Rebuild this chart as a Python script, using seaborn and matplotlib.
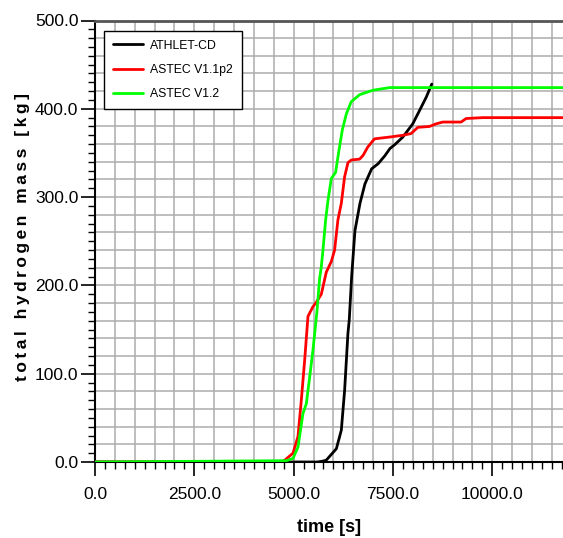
import pandas as pd
import seaborn as sns
import matplotlib.pyplot as plt
from matplotlib.ticker import MultipleLocator, FormatStrFormatter

# hydrogen mass curves
athlet_t = [0, 5600, 5736, 5820, 6075, 6200, 6283, 6367, 6400, 6460, 6543, 6670,
            6795, 6963, 7131, 7299, 7424, 7560, 7748, 7999, 8168, 8336, 8477]
athlet_m = [0, 0, 1, 2, 15, 36, 81, 146, 161, 210, 262, 293,
            315, 332, 338, 347, 355, 360, 368, 383, 398, 413, 428]

red_t = [0, 4700, 4775, 4984, 5110, 5193, 5277, 5361, 5487, 5572, 5696, 5822,
         5948, 6031, 6114, 6200, 6283, 6367, 6450, 6660, 6744, 6870, 7037, 7414,
         7748, 7958, 8125, 8419, 8587, 8755, 9215, 9341, 9759, 12000]
red_m = [0, 0, 2, 10, 29, 70, 115, 165, 176, 181, 190, 215,
         227, 240, 274, 293, 323, 339, 342, 343, 347, 357, 366, 368,
         370, 372, 379, 380, 383, 385, 385, 389, 390, 390]

green_t = [0, 4817, 4984, 5110, 5235, 5319, 5403, 5487, 5590, 5654, 5696, 5738,
           5805, 5864, 5948, 6056, 6141, 6225, 6325, 6450, 6660, 6994, 7414, 7916, 12000]
green_m = [0, 1.5, 4, 17, 55, 66, 96, 127, 172, 208, 221, 240,
           274, 296, 321, 328, 353, 376, 394, 408, 416, 421, 424, 424, 424]

codes = ["ATHLET-CD", "ASTEC V1.1p2", "ASTEC V1.2"]
colors = ["black", "#ff0000", "#00ff00"]

df = pd.concat([
    pd.DataFrame({"t": athlet_t, "m": athlet_m, "code": codes[0]}),
    pd.DataFrame({"t": red_t, "m": red_m, "code": codes[1]}),
    pd.DataFrame({"t": green_t, "m": green_m, "code": codes[2]}),
], ignore_index=True)

sns.set_style("white")
plt.rcParams["font.family"] = ["Liberation Sans", "DejaVu Sans"]
plt.rcParams["text.color"] = "black"
plt.rcParams["xtick.color"] = "black"
plt.rcParams["ytick.color"] = "black"
plt.rcParams["axes.labelcolor"] = "black"

fig = plt.figure(figsize=(5.63, 5.38), dpi=100)
ax = fig.add_axes([95 / 563, 76 / 538, 468 / 563, 441.5 / 538])

# grid drawn by hand: every 500 s and every 20 kg
for gx in range(500, 12000, 500):
    ax.axvline(gx, color="#acacac", lw=1.1, zorder=0)
for gy in range(20, 500, 20):
    ax.axhline(gy, color="#acacac", lw=1.1, zorder=0)

sns.lineplot(data=df, x="t", y="m", hue="code", hue_order=codes,
             palette=dict(zip(codes, colors)), estimator=None, sort=False,
             lw=2.0, ax=ax, zorder=3)

ax.set_xlim(0, 11780)
ax.set_ylim(0, 500)

ax.xaxis.set_major_locator(MultipleLocator(2500))
ax.xaxis.set_minor_locator(MultipleLocator(250))
ax.yaxis.set_major_locator(MultipleLocator(100))
ax.yaxis.set_minor_locator(MultipleLocator(10))
ax.xaxis.set_major_formatter(FormatStrFormatter("%.1f"))
ax.yaxis.set_major_formatter(FormatStrFormatter("%.1f"))

ax.tick_params(which="both", bottom=True, left=True, direction="out")
ax.tick_params(which="major", length=10, width=1.2, labelsize=12.5)
ax.tick_params(which="minor", length=5, width=1.0)
ax.tick_params(axis="y", which="major", pad=2)
ax.tick_params(axis="x", which="major", pad=8)

for s in ["left", "bottom"]:
    ax.spines[s].set_color("black")
    ax.spines[s].set_linewidth(1.5)
ax.spines["top"].set_color("#555555")
ax.spines["top"].set_linewidth(2)
ax.spines["right"].set_visible(False)

ax.set_xlabel("time [s]", fontsize=13, fontweight="bold", labelpad=12)
ylab = "\u2009".join("total hydrogen mass [kg]")
ax.set_ylabel(ylab, fontsize=12.5, fontweight="bold", va="center")
ax.yaxis.set_label_coords(-(95 - 23) / 468, 0.51)

handles, labels = ax.get_legend_handles_labels()
leg = ax.legend(handles, labels, loc="upper left",
                bbox_to_anchor=(9 / 468, 1 - 10 / 441.5), borderaxespad=0,
                fancybox=False, edgecolor="black", framealpha=1, fontsize=8.8,
                handlelength=2.4, handletextpad=0.6, borderpad=0.75,
                labelspacing=1.0)
leg.get_frame().set_linewidth(1.0)

fig.savefig("out.png", dpi=100)
